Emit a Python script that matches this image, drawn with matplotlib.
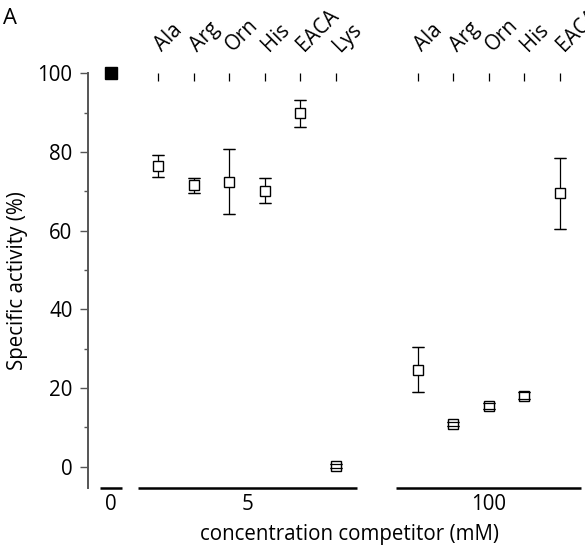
import matplotlib
matplotlib.use("Agg")
import matplotlib.pyplot as plt
import matplotlib.transforms as mtransforms
import numpy as np

# data (specific activity, %)
control_value = 100.0
groups = ["0", "5", "100"]
comp_5mM = ["Ala", "Arg", "Orn", "His", "EACA", "Lys"]
act_5mM = [76.5, 71.6, 72.5, 70.2, 89.8, 0.3]
err_5mM = [2.8, 1.9, 8.3, 3.2, 3.4, 0.5]
comp_100mM = ["Ala", "Arg", "Orn", "His", "EACA"]
act_100mM = [24.7, 10.8, 15.4, 18.1, 69.5]
err_100mM = [5.7, 0.5, 0.8, 0.8, 9.1]

plt.rcParams["font.family"] = ["Open Sans", "DejaVu Sans"]
FS = 14.8
SPINE = "#555555"

# layout (x in slot units)
gap0 = 1.32
gap1 = 2.29
x0 = np.array([0.0])
x5 = gap0 + np.arange(len(act_5mM))
x100 = x5[-1] + gap1 + np.arange(len(act_100mM))
ybar = -5.3

fig = plt.figure(figsize=(5.85, 5.47), dpi=100)
ax = fig.add_axes([0.1499, 0.1084, 0.8501, 0.7576])
ax.set_xlim(-0.654, 13.31)
ax.set_ylim(ybar, 100)

ax.plot(x0, [control_value], "s", color="black", ms=8.2, clip_on=False, zorder=4)
for xs, ys, es in ((x5, act_5mM, err_5mM), (x100, act_100mM, err_100mM)):
    ax.errorbar(xs, ys, yerr=es, fmt="none", ecolor="black", elinewidth=0.9,
                capsize=4.3, capthick=0.9, zorder=2, clip_on=False)
    ax.plot(xs, ys, "s", ms=7.8, mfc="white", mec="black", mew=1.0, zorder=3)
    ax.errorbar(xs, ys, yerr=es, fmt="none", ecolor="black", elinewidth=0,
                capsize=4.3, capthick=0.9, zorder=4)

# group bars along the bottom
spans = [(x0[0] - 0.32, x0[0] + 0.32), (x5[0] - 0.56, x5[-1] + 0.6),
         (x100[0] - 0.62, x100[-1] + 0.6)]
for (a, b), g in zip(spans, groups):
    ax.plot([a, b], [ybar, ybar], color="black", lw=1.8, solid_capstyle="butt", clip_on=False)
    ax.text((a + b) / 2, -9.6, g, ha="center", va="center", fontsize=FS)
ax.text(6.7, -17.3, "concentration competitor (mM)", ha="center", va="center", fontsize=FS)

# competitor names on top
ax.xaxis.set_ticks_position("top")
ax.set_xticks(np.concatenate([x5, x100]))
ax.set_xticklabels(comp_5mM + comp_100mM, rotation=45, ha="left", va="baseline",
                   rotation_mode="anchor", fontsize=FS)
ax.tick_params(axis="x", direction="in", length=5.8, width=0.9, color="black", pad=15)
shift = mtransforms.ScaledTranslation(4 / 100, 0, fig.dpi_scale_trans)
for lab in ax.get_xticklabels():
    lab.set_transform(lab.get_transform() + shift)

ax.set_yticks(np.arange(0, 101, 20))
ax.set_yticks(np.arange(10, 100, 20), minor=True)
ax.tick_params(axis="y", which="major", length=6, width=1.0, color=SPINE, pad=5, labelsize=FS)
ax.tick_params(axis="y", which="minor", length=3, width=1.0, color=SPINE)
ax.set_ylabel("Specific activity (%)", fontsize=FS, labelpad=7)

for s in ("top", "right", "bottom"):
    ax.spines[s].set_visible(False)
ax.spines["left"].set_color(SPINE)
ax.spines["left"].set_linewidth(1.4)

fig.text(0.005, 0.985, "A", ha="left", va="top", fontsize=FS + 1)

fig.savefig("out.png", dpi=100)
